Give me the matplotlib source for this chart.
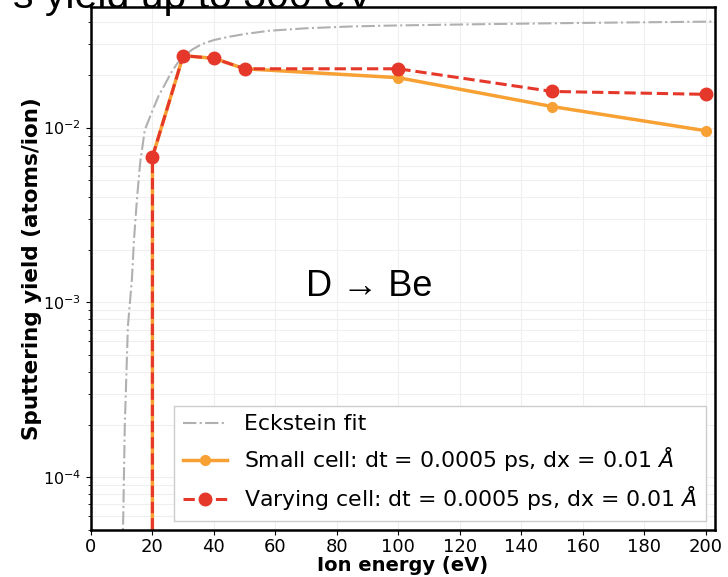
import matplotlib
matplotlib.use("Agg")
import matplotlib.pyplot as plt

# Eckstein fit
fit_energy = [10.1, 10.5, 11.0, 12.0, 13.3, 14.0, 15.0, 16.0, 17.5, 20.0, 22.0, 24.0,
              26.0, 28.0, 30.0, 33.0, 36.0, 40.0, 45.0, 50.0, 58.0, 70.0, 85.0,
              100.0, 130.0, 160.0, 203.0]
fit_yield = [3e-5, 6e-5, 2.0e-4, 7.3e-4, 1.35e-3, 2.3e-3, 4.0e-3, 6.3e-3, 9.7e-3,
             1.25e-2, 1.52e-2, 1.76e-2, 2.05e-2, 2.32e-2, 2.54e-2, 2.80e-2, 3.0e-2,
             3.17e-2, 3.31e-2, 3.43e-2, 3.58e-2, 3.70e-2, 3.79e-2, 3.84e-2, 3.91e-2,
             3.97e-2, 4.04e-2]

# simulations (0 at 10 eV -> no sputtering)
energy = [10, 20, 30, 40, 50, 100, 150, 200]
small_cell = [0, 0.0068, 0.0258, 0.0249, 0.0217, 0.0193, 0.0132, 0.0096]
varying_cell = [0, 0.0068, 0.0258, 0.0249, 0.0217, 0.0217, 0.0161, 0.0155]

fig = plt.figure(figsize=(7.28, 5.77), dpi=100)
ax = fig.add_axes([0.125, 0.0815, 0.857, 0.9065])

ax.plot(fit_energy, fit_yield, color="#b0b0b0", ls="-.", lw=1.5, label="Eckstein fit")
ax.plot(energy, small_cell, color="#f7a034", ls="-", lw=2.5, marker="o", ms=7,
        label="Small cell: dt = 0.0005 ps, dx = 0.01 $\\AA$")
ax.plot(energy, varying_cell, color="#e5382b", ls="--", lw=2.2, marker="o", ms=9,
        label="Varying cell: dt = 0.0005 ps, dx = 0.01 $\\AA$")

ax.set_yscale("log")
ax.set_xlim(0, 203)
ax.set_ylim(5e-5, 0.049)
ax.set_xticks(range(0, 201, 20))
ax.grid(which="both", color="#efefef", lw=0.8)
ax.set_axisbelow(True)
ax.tick_params(axis="x", labelsize=13, pad=2)
ax.tick_params(axis="y", labelsize=11.5)
for s in ax.spines.values():
    s.set_linewidth(1.8)

ax.set_xlabel("Ion energy (eV)", fontsize=14, fontweight="bold", labelpad=0)
ax.set_ylabel("Sputtering yield (atoms/ion)", fontsize=15.5, fontweight="bold", labelpad=1)

ax.legend(loc="lower right", fontsize=15.8, framealpha=1, edgecolor="#cccccc",
          fancybox=False, borderaxespad=0.4)

fig.text(0.42, 0.487, "D \u2192 Be", fontsize=26, family="Liberation Sans", va="baseline")
fig.text(0.018, 1 - 8 / 577, "s yield up to 300 eV", fontsize=29.5,
         family="Liberation Sans", va="baseline")

fig.savefig("out.png", dpi=100)
